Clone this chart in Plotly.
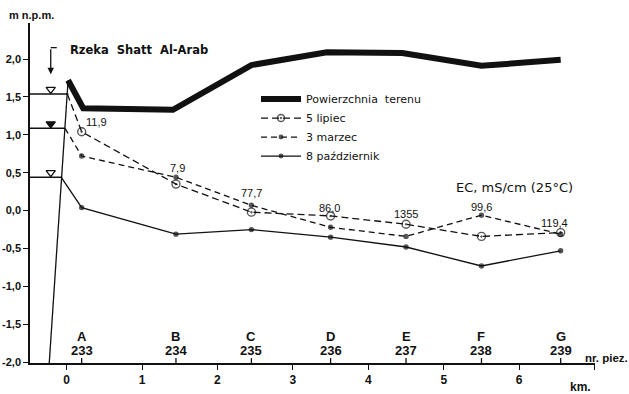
import plotly.graph_objects as go

# ---- data ----
km_ticks = [0, 1, 2, 3, 4, 5, 6, 7]
km_ticktext = ["0", "1", "2", "3", "4", "5", "6", ""]
y_ticks = [2.0, 1.5, 1.0, 0.5, 0.0, -0.5, -1.0, -1.5, -2.0]
y_ticktext = ["2,0", "1,5", "1,0", "0,5", "0,0", "-0,5", "-1,0", "-1,5", "-2,0"]

piez_letters = ["A", "B", "C", "D", "E", "F", "G"]
piez_numbers = ["233", "234", "235", "236", "237", "238", "239"]
piez_km = [0.2, 1.45, 2.45, 3.5, 4.5, 5.5, 6.55]

surface_km = [0.02, 0.22, 1.41, 2.45, 3.45, 4.45, 5.5, 6.55]
surface_m = [1.72, 1.35, 1.33, 1.92, 2.09, 2.08, 1.91, 1.99]

bank_km = [0.02, -0.23]
bank_m = [1.72, -2.01]

series_names = ["5 lipiec", "3 marzec", "8 październik"]
river_level_m = [1.54, 1.085, 0.44]
river_contact_km = [0.01, -0.02, -0.07]
river_left_km = -0.485
level_mark_km = -0.21

lipiec_m = [1.04, 0.35, -0.02, -0.07, -0.18, -0.34, -0.29]
marzec_m = [0.72, 0.44, 0.07, -0.22, -0.34, -0.06, -0.31]
pazdziernik_m = [0.04, -0.31, -0.25, -0.35, -0.48, -0.73, -0.53]

ec_labels = ["11,9", "7,9", "77,7", "86,0", "1355", "99,6", "119,4"]
ec_label_km = [0.40, 1.47, 2.45, 3.49, 4.5, 5.5, 6.47]
ec_label_m = [1.17, 0.56, 0.23, 0.03, -0.05, 0.05, -0.16]

FONT = "DejaVu Sans"
NARROW = "Liberation Sans"
INK = "#111111"

fig = go.Figure()

# bank line (thin)
fig.add_trace(go.Scatter(x=bank_km, y=bank_m, mode="lines",
                         line=dict(color=INK, width=1.3), showlegend=False, hoverinfo="skip"))

# river levels
level_symbols = ["triangle-down-open", "triangle-down", "triangle-down-open"]
for lvl, ck, sym in zip(river_level_m, river_contact_km, level_symbols):
    fig.add_trace(go.Scatter(x=[river_left_km, ck], y=[lvl, lvl], mode="lines",
                             line=dict(color=INK, width=1.5), showlegend=False, hoverinfo="skip"))
    fig.add_trace(go.Scatter(x=[level_mark_km], y=[lvl + 0.06], mode="markers",
                             marker=dict(symbol=sym, size=8, color=INK, line=dict(color=INK, width=1.3)),
                             showlegend=False, hoverinfo="skip"))

# surface
fig.add_trace(go.Scatter(x=surface_km, y=surface_m, mode="lines", name="Powierzchnia  terenu",
                         line=dict(color=INK, width=6)))

series_vals = [lipiec_m, marzec_m, pazdziernik_m]
series_dash = ["7px,4px", "6px,4px", "solid"]
series_sym = ["circle-open-dot", "circle", "circle"]
series_size = [8, 4, 4]
for name, lvl, ck, vals, dash, sym, sz in zip(series_names, river_level_m, river_contact_km,
                                              series_vals, series_dash, series_sym, series_size):
    fig.add_trace(go.Scatter(
        x=[ck] + piez_km, y=[lvl] + vals, mode="lines+markers", name=name,
        line=dict(color=INK, width=1.3, dash=dash),
        marker=dict(symbol=sym, size=[0] + [sz] * len(vals), color=INK,
                    line=dict(color=INK, width=1.4)),
    ))

annotations = []
for t, xk, ym in zip(ec_labels, ec_label_km, ec_label_m):
    annotations.append(dict(x=xk, y=ym, xref="x", yref="y", text=t, showarrow=False,
                            font=dict(family=NARROW, size=11, color=INK)))

for L, N, xk in zip(piez_letters, piez_numbers, piez_km):
    annotations.append(dict(x=xk, y=-1.666, xref="x", yref="y", text=L, showarrow=False,
                            font=dict(family=NARROW, size=13, color=INK, weight="bold")))
    annotations.append(dict(x=xk, y=-1.842, xref="x", yref="y", text=N, showarrow=False,
                            font=dict(family=NARROW, size=13, color=INK, weight="bold")))

annotations += [
    dict(x=5.94, y=0.30, xref="x", yref="y", text="EC, mS/cm (25°C)", showarrow=False,
         font=dict(family=FONT, size=13, color=INK)),
    dict(x=0.02, y=2.12, xref="x", yref="y", text="Rzeka  Shatt  Al-Arab", showarrow=False,
         xanchor="left", font=dict(family=FONT, size=11.5, color=INK, weight="bold")),
    dict(x=level_mark_km, y=1.80, ax=level_mark_km, ay=2.15, xref="x", yref="y",
         axref="x", ayref="y", text="", showarrow=True, arrowhead=2, arrowsize=1,
         arrowwidth=1.3, arrowcolor=INK),
    dict(x=-0.0407, y=1.0235, xref="paper", yref="paper", text="m n.p.m.", showarrow=False,
         xanchor="left", yanchor="middle",
         font=dict(family=NARROW, size=11, color=INK, weight="bold")),
    dict(x=0.9747, y=-0.0715, xref="paper", yref="paper", text="km.", showarrow=False,
         xanchor="center", yanchor="middle",
         font=dict(family=NARROW, size=12, color=INK, weight="bold")),
    dict(x=0.979, y=0.0147, xref="paper", yref="paper", text="nr. piez.", showarrow=False,
         xanchor="left", yanchor="middle",
         font=dict(family=NARROW, size=11.5, color=INK, weight="bold")),
]

shapes = [dict(type="line", xref="x", yref="y", x0=level_mark_km, x1=level_mark_km + 0.08,
               y0=2.15, y1=2.15, line=dict(color=INK, width=1.3))]
for xk in piez_km:
    shapes.append(dict(type="line", xref="x", yref="y", x0=xk, x1=xk, y0=-2.01, y1=-1.945,
                       line=dict(color=INK, width=1.3)))

fig.update_layout(
    width=629, height=394,
    margin=dict(l=30, r=34, t=23, b=31, autoexpand=False),
    paper_bgcolor="white", plot_bgcolor="white",
    font=dict(family=FONT, color=INK),
    annotations=annotations, shapes=shapes,
    legend=dict(x=0.40, y=0.819, xanchor="left", yanchor="top", bgcolor="rgba(0,0,0,0)",
                font=dict(family=FONT, size=11, color=INK), itemwidth=40, tracegroupgap=0),
    xaxis=dict(range=[-0.485, 7.005], showgrid=False, zeroline=False, showline=True,
               linecolor=INK, linewidth=1.5, ticks="outside", ticklen=5, tickwidth=1.3,
               tickcolor=INK, tickvals=km_ticks, ticktext=km_ticktext, automargin=False,
               tickfont=dict(family=NARROW, size=12, color=INK, weight="bold")),
    yaxis=dict(range=[-2.01, 2.475], showgrid=False, zeroline=False, showline=True,
               linecolor=INK, linewidth=1.5, ticks="outside", ticklen=5, tickwidth=1.3,
               tickcolor=INK, tickvals=y_ticks, ticktext=y_ticktext, automargin=False,
               tickfont=dict(family=NARROW, size=11, color=INK, weight="bold")),
)

fig.write_html("out.html", config={"displayModeBar": False},
               post_script="document.body.style.margin='0px';")
